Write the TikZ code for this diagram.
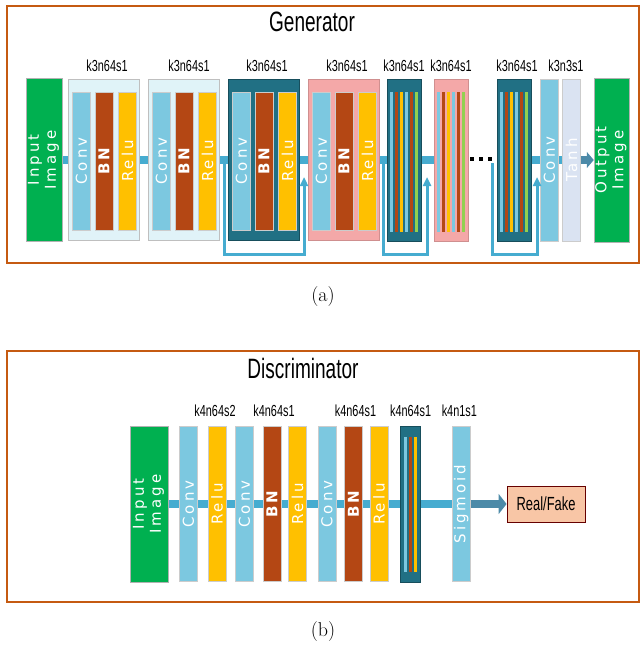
\documentclass[tikz,border=0pt]{standalone}
\usepackage{fontspec}
\usetikzlibrary{positioning,backgrounds,arrows.meta}
\newfontfamily\narrowfont[FakeStretch=0.68]{Liberation Sans}
\newfontfamily\layerfont[LetterSpace=20]{DejaVu Sans}
\definecolor{framec}{RGB}{197,90,17}
\definecolor{convc}{RGB}{124,200,224}
\definecolor{bnc}{RGB}{180,71,20}
\definecolor{reluc}{RGB}{255,192,0}
\definecolor{tealc}{RGB}{33,112,132}
\definecolor{pinkc}{RGB}{244,168,168}
\definecolor{cyanbox}{RGB}{224,243,248}
\definecolor{imgc}{RGB}{0,176,80}
\definecolor{barc}{RGB}{70,172,208}
\definecolor{arrc}{RGB}{76,138,168}
\definecolor{tanhc}{RGB}{218,227,242}
\definecolor{stripeg}{RGB}{146,208,80}
\definecolor{rfc}{RGB}{248,198,166}
\newcommand{\vtext}[1]{\rotatebox{90}{#1}}

\begin{document}
\begin{tikzpicture}[
    x=1pt, y=-1pt,
    layer/.style={draw=black!20, line width=0.5pt, minimum width=18pt, minimum height=138pt, inner sep=0pt, text=white, font=\layerfont\fontsize{15}{17}\selectfont},
    conv/.style={layer, fill=convc},
    bn/.style={layer, fill=bnc, font=\layerfont\bfseries\fontsize{15}{17}\selectfont},
    relu/.style={layer, fill=reluc},
    tall/.style={minimum height=155pt},
    group/.style={line width=0.8pt, minimum width=71pt, minimum height=161pt, inner sep=0pt},
    stack/.style={line width=0.8pt, minimum width=34pt, minimum height=162pt, inner sep=0pt},
    stripe/.style={minimum width=3.4pt, minimum height=140pt, inner sep=0pt},
    image/.style={layer, fill=imgc, draw=black!30},
    spec/.style={font=\narrowfont\fontsize{16}{16}\selectfont, inner sep=0pt},
    title/.style={font=\narrowfont\fontsize{28}{30}\selectfont, inner sep=0pt},
    caption/.style={font=\fontsize{20}{22}\selectfont, inner sep=0pt},
    bar/.style={barc, line width=8pt},
    skip/.style={barc, line width=3pt, -{Triangle[width=8pt,length=9pt]}},
    flow/.style={arrc, line width=8pt, -{Triangle[width=16pt,length=7pt]}},
    frame/.style={draw=framec, line width=1.4pt}
]
\useasboundingbox (0,0) rectangle (640,647);

% ========== GENERATOR ==========
\draw[frame] (7,6) rectangle (639,263);
\node[title] (gtitle) at (312,22) {Generator};

\node[image, minimum width=36pt, minimum height=163pt] (gin) at (44,160) {\vtext{\begin{tabular}{@{}c@{}}Input\\Image\end{tabular}}};

% Conv-BN-Relu groups
\node[group, fill=cyanbox, draw=black!25] (b1) at (104,160) {};
\node[bn] (n1) at (104,161) {\vtext{BN}};
\node[conv, left=4pt of n1] (c1) {\vtext{Conv}};
\node[relu, right=5pt of n1] (r1) {\vtext{Relu}};

\node[group, fill=cyanbox, draw=black!25] (b2) at (184,160) {};
\node[bn] (n2) at (184,161) {\vtext{BN}};
\node[conv, left=4pt of n2] (c2) {\vtext{Conv}};
\node[relu, right=5pt of n2] (r2) {\vtext{Relu}};

\node[group, fill=tealc, draw=tealc!70!black] (b3) at (264,160) {};
\node[bn] (n3) at (264,161) {\vtext{BN}};
\node[conv, left=4pt of n3] (c3) {\vtext{Conv}};
\node[relu, right=5pt of n3] (r3) {\vtext{Relu}};

\node[group, fill=pinkc, draw=pinkc!85!black] (b4) at (344,160) {};
\node[bn] (n4) at (344,161) {\vtext{BN}};
\node[conv, left=4pt of n4] (c4) {\vtext{Conv}};
\node[relu, right=5pt of n4] (r4) {\vtext{Relu}};

% striped stacks
\node[stack, fill=tealc, draw=tealc!70!black] (s5) at (404,160) {};
\node[stack, fill=pinkc, draw=pinkc!85!black] (s6) at (451,160) {};
\node[stack, fill=tealc, draw=tealc!70!black] (s7) at (514,160) {};
\foreach \s in {s5,s6,s7}
  \foreach \dx/\col in {-12.5/convc, -7.5/bnc, -2.5/reluc, 2.5/convc, 7.5/bnc, 12.5/stripeg}
    \node[stripe, fill=\col] at ([xshift=\dx pt, yshift=-2pt]\s.center) {};

% dots
\foreach \d in {472,481,490}
  \fill (\d-2,157.5) rectangle ++(4,4);

\node[conv, minimum height=162pt] (gconv) at (549.5,160) {\vtext{Conv}};
\node[layer, fill=tanhc, minimum height=162pt] (tanh) at (571.5,160) {\vtext{Tanh}};
\node[image, minimum width=35pt, minimum height=164pt] (gout) at (611.5,160) {\vtext{\begin{tabular}{@{}c@{}}Output\\Image\end{tabular}}};

% layer specs
\node[spec, above=7pt of b1, xshift=3pt] (l1) {k3n64s1};
\node[spec, above=7pt of b2, xshift=5pt] (l2) {k3n64s1};
\node[spec, above=7pt of b3, xshift=3pt] (l3) {k3n64s1};
\node[spec, above=7pt of b4, xshift=3pt] (l4) {k3n64s1};
\node[spec, above=7pt of s5] (l5) {k3n64s1};
\node[spec, above=7pt of s6] (l6) {k3n64s1};
\node[spec, above=7pt of s7, xshift=3pt] (l7) {k3n64s1};
\node[spec] (l8) at (566,66) {k3n3s1};

% main path
\begin{scope}[on background layer]
\draw[bar] (gin) -- (s6);
\draw[bar] (s7) -- (tanh);
\end{scope}
\draw[flow] (tanh.east) -- (gout.west);

% skip connections
\coordinate (k1a) at (224,160);
\coordinate (k1b) at (304,177);
\coordinate (k2a) at (383,160);
\coordinate (k2b) at (427,177);
\coordinate (k3a) at (492,163);
\coordinate (k3b) at (537,177);
\draw[skip] (k1a) -- ++(0,94) -| (k1b);
\draw[skip] (k2a) -- ++(0,94) -| (k2b);
\draw[skip] (k3a) -- ++(0,91) -| (k3b);

\node[caption] (capa) at (323,297) {(a)};

% ========== DISCRIMINATOR ==========
\draw[frame] (7,351) rectangle (639,602);
\node[title] (dtitle) at (303,368) {Discriminator};

\node[image, minimum width=38pt, minimum height=156pt] (din) at (149,504) {\vtext{\begin{tabular}{@{}c@{}}Input\\Image\end{tabular}}};
\node[conv, tall] (dc1) at (188.5,504) {\vtext{Conv}};
\node[relu, tall, right=10pt of dc1] (dr1) {\vtext{Relu}};
\node[conv, tall, right=9pt of dr1] (dc2) {\vtext{Conv}};
\node[bn, tall, right=9pt of dc2] (dn2) {\vtext{BN}};
\node[relu, tall, right=7pt of dn2] (dr2) {\vtext{Relu}};
\node[conv, tall, right=11pt of dr2] (dc3) {\vtext{Conv}};
\node[bn, tall, right=8pt of dc3] (dn3) {\vtext{BN}};
\node[relu, tall, right=7pt of dn3] (dr3) {\vtext{Relu}};
\node[stack, fill=tealc, draw=tealc!70!black, minimum width=20pt, minimum height=156pt, right=12pt of dr3] (ds4) {};
\foreach \dx/\col in {-5/convc, 0/bnc, 5/reluc}
  \node[stripe, fill=\col, minimum height=135pt] at ([xshift=\dx pt]ds4.center) {};
\node[conv, tall, right=31pt of ds4] (dsig) {\vtext{Sigmoid}};
\node[draw=black!60!red, line width=1pt, fill=rfc, minimum width=78pt, minimum height=36pt, font=\narrowfont\fontsize{19}{19}\selectfont, right=36pt of dsig] (rf) {Real/Fake};

% layer specs
\node[spec, above=9pt of dr1, xshift=-2pt] (m1) {k4n64s2};
\node[spec, above=9pt of dn2, xshift=2pt] (m2) {k4n64s1};
\node[spec, above=9pt of dn3, xshift=2pt] (m3) {k4n64s1};
\node[spec, above=9pt of ds4] (m4) {k4n64s1};
\node[spec, above=9pt of dsig, xshift=-2pt] (m5) {k4n1s1};

\begin{scope}[on background layer]
\draw[bar] (din) -- (dsig);
\end{scope}
\draw[flow, -{Triangle[width=20pt,length=8pt]}] (dsig.east) -- (rf.west);

\node[caption] (capb) at (323,632) {(b)};

\end{tikzpicture}
\end{document}
